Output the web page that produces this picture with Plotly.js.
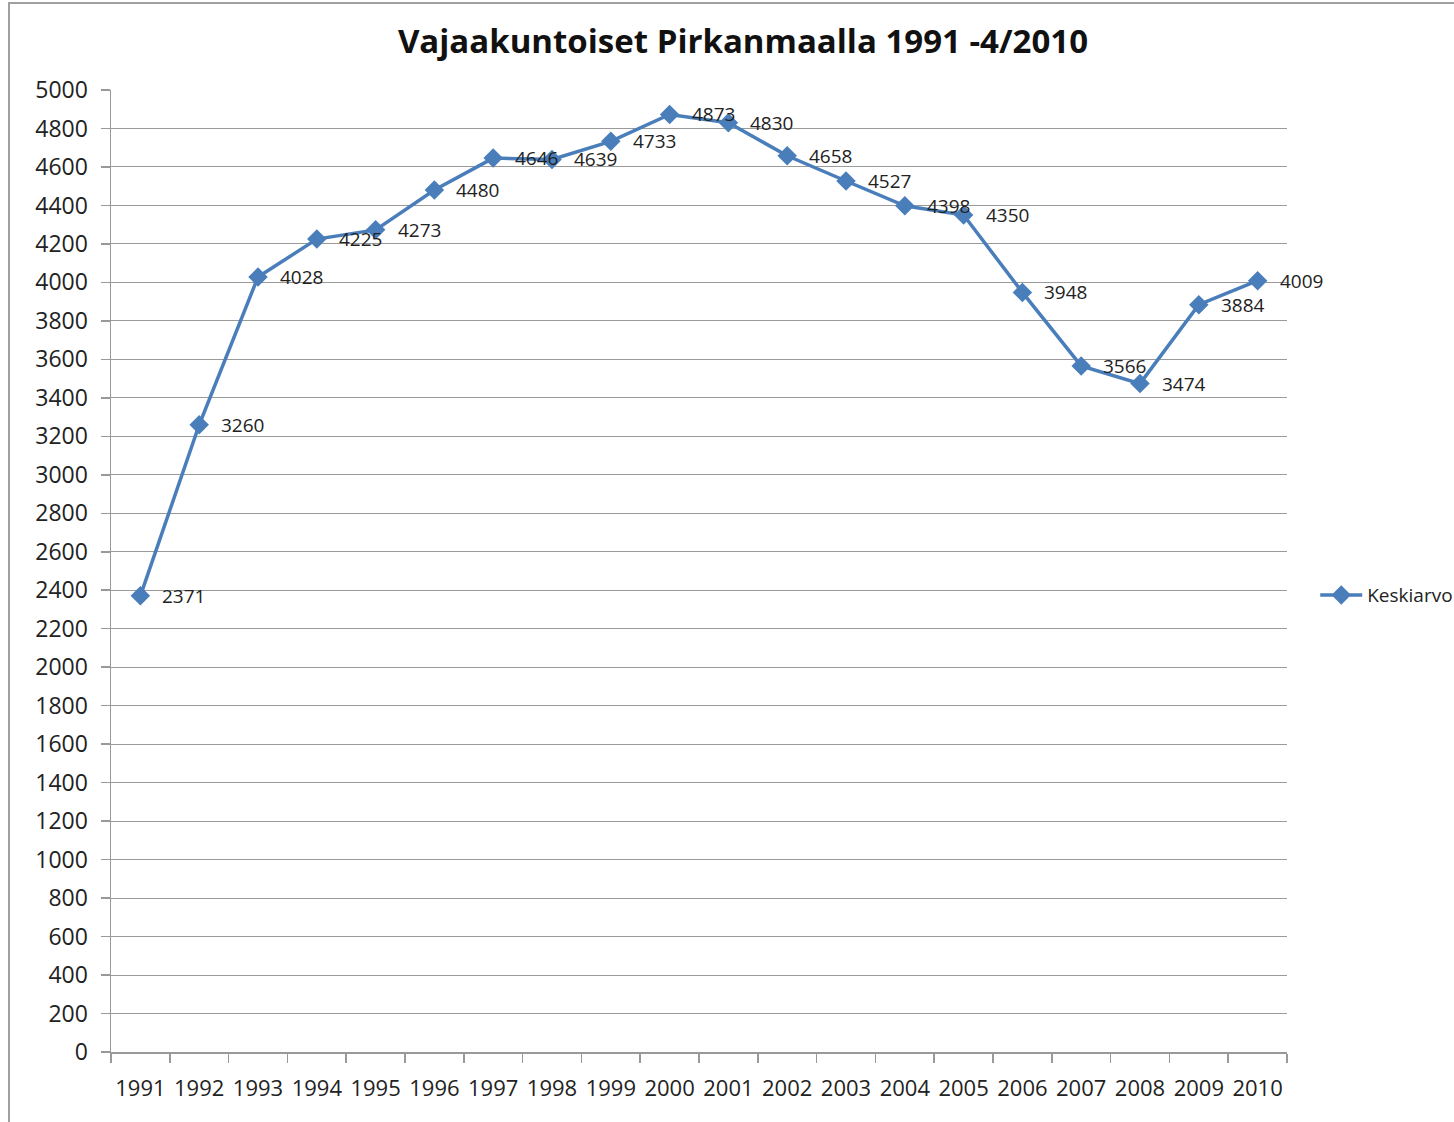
<!DOCTYPE html>
<html><head><meta charset="utf-8">
<script src="https://cdn.plot.ly/plotly-3.0.1.min.js"></script>
<style>
html,body{margin:0;padding:0;background:#fff;}
#frame{position:absolute;left:8px;top:2px;width:2000px;height:2000px;border-left:2px solid #a0a0a0;border-top:2px solid #a0a0a0;}
#chart{position:absolute;left:0;top:0;width:1454px;height:1122px;}
</style></head>
<body>
<div id="frame"></div>
<div id="chart"></div>
<script>
const years = ['1991','1992','1993','1994','1995','1996','1997','1998','1999','2000','2001','2002','2003','2004','2005','2006','2007','2008','2009','2010'];
const keskiarvo = [2371,3260,4028,4225,4273,4480,4646,4639,4733,4873,4830,4658,4527,4398,4350,3948,3566,3474,3884,4009];
const seriesName = 'Keskiarvo';
const titleText = 'Vajaakuntoiset Pirkanmaalla 1991 -4/2010';

const font = 'Open Sans, DejaVu Sans, sans-serif';
const trace = {
  x: years, y: keskiarvo, name: seriesName, type: 'scatter', mode: 'lines+markers',
  line: {color: '#4A7EBB', width: 3.5},
  marker: {symbol: 'diamond', size: 15, color: '#4A7EBB'},
  cliponaxis: false
};
// category index positions on the category axis
const annotations = years.map((yr, i) => ({
  x: i, y: keskiarvo[i], xref: 'x', yref: 'y', text: String(keskiarvo[i]),
  showarrow: false, xanchor: 'left', yanchor: 'middle', xshift: 20,
  font: {family: font, size: 19, color: '#222'}
}));
const layout = {
  width: 1454, height: 1122,
  margin: {l: 111, r: 167, t: 90, b: 70, autoexpand: false},
  paper_bgcolor: 'rgba(0,0,0,0)', plot_bgcolor: 'rgba(0,0,0,0)',
  title: {text: '<b>' + titleText + '</b>', x: 0.511, xanchor: 'center', y: 0.963, yanchor: 'middle',
          font: {family: font, size: 33, color: '#111'}},
  xaxis: {type: 'category', range: [-0.5, 19.5], tickson: 'boundaries', ticks: 'outside', ticklen: 9, tickcolor: '#999', tickwidth: 1.5,
          showline: true, linecolor: '#999', linewidth: 1.5, showgrid: false, zeroline: false, tickangle: 0,
          tickfont: {family: font, size: 22, color: '#222'}, ticklabelstandoff: 16, fixedrange: true},
  yaxis: {range: [0, 5000], dtick: 200, tick0: 0, ticks: 'outside', ticklen: 9, tickcolor: '#999', tickwidth: 1.5,
          showline: true, linecolor: '#999', linewidth: 1.5, showgrid: true, gridcolor: '#9a9a9a', gridwidth: 1,
          zeroline: false, tickfont: {family: font, size: 23, color: '#222'}, ticklabelstandoff: 8, fixedrange: true},
  annotations: annotations,
  showlegend: true,
  legend: {x: 1.024, xanchor: 'left', y: 0.475, yanchor: 'middle', font: {family: font, size: 19, color: '#222'},
           bgcolor: 'rgba(0,0,0,0)', itemwidth: 42},
};
Plotly.newPlot('chart', [trace], layout, {displayModeBar: false, staticPlot: true});
</script>
</body></html>
